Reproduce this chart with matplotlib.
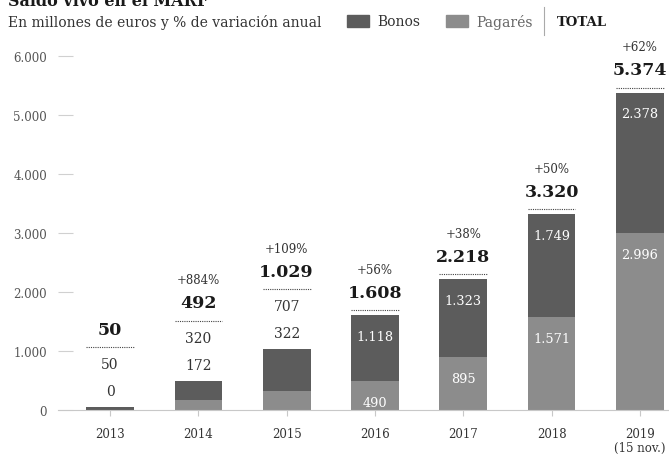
import matplotlib
matplotlib.use("Agg")
import matplotlib.pyplot as plt
from matplotlib.patches import Rectangle
from matplotlib.transforms import offset_copy

# datos (millones de euros)
years = ["2013", "2014", "2015", "2016", "2017", "2018", "2019\n(15 nov.)"]
pagares = [0, 172, 322, 490, 895, 1571, 2996]
bonos = [50, 320, 707, 1118, 1323, 1749, 2378]
totals = [50, 492, 1029, 1608, 2218, 3320, 5374]
pct = [None, "+884%", "+109%", "+56%", "+38%", "+50%", "+62%"]
yticks = [0, 1000, 2000, 3000, 4000, 5000, 6000]
ytick_labels = ["0", "1.000", "2.000", "3.000", "4.000", "5.000", "6.000"]

C_BONOS = "#5c5c5c"
C_PAGARES = "#8c8c8c"
SERIF = "DejaVu Serif"

def fmt(v):
    return "{:,}".format(v).replace(",", ".")

plt.rcParams["font.family"] = SERIF
fig = plt.figure(figsize=(6.69, 4.60), dpi=100)
ax = fig.add_axes([0.0867, 0.1065, 0.9133, 0.7695])

x = list(range(len(years)))
w = 0.54
ax.bar(x, pagares, w, color=C_PAGARES, zorder=2)
ax.bar(x, bonos, w, bottom=pagares, color=C_BONOS, zorder=2)

ax.set_xlim(-0.59, 6.33)
ax.set_ylim(0, 6000)
ax.set_yticks(yticks)
ax.set_yticklabels(ytick_labels)
ax.set_xticks(x)
ax.set_xticklabels(years)
for s in ["top", "right", "left"]:
    ax.spines[s].set_visible(False)
ax.spines["bottom"].set_color("#c8c8c8")
ax.spines["bottom"].set_linestyle((0, (2, 1)))
ax.tick_params(axis="y", direction="in", length=11, width=0.8, color="#d0d0d0",
               pad=8, labelsize=8.5, labelcolor="#555555")
ax.tick_params(axis="x", length=4, width=0.8, color="#c8c8c8", pad=8,
               labelsize=8.5, labelcolor="#333333")
for lab in ax.get_xticklabels():
    lab.set_linespacing(1.15)

def note(i, y, dy, txt, **kw):
    ax.annotate(txt, (i, y), xytext=(0, dy), textcoords="offset pixels",
                ha="center", va="center", annotation_clip=False, **kw)

for i in x:
    top = totals[i]
    if top < 1500:
        # etiquetas encima de la barra
        note(i, top, 16, fmt(pagares[i]), fontsize=10, color="#333333")
        note(i, top, 43, fmt(bonos[i]), fontsize=10, color="#333333")
        line_dy = 60
    else:
        # etiquetas dentro de la barra
        note(i, pagares[i], -21, fmt(pagares[i]), fontsize=9.3, color="white")
        note(i, top, -21, fmt(bonos[i]), fontsize=9.3, color="white")
        line_dy = 5
    tr = offset_copy(ax.transData, fig=fig, y=line_dy, units="dots")
    ax.plot([i - w / 2, i + w / 2], [top, top], transform=tr, color="#444444",
            lw=0.8, ls=(0, (1, 1)), clip_on=False, zorder=3)
    note(i, top, line_dy + 18, fmt(top), fontsize=12.5, fontweight="bold", color="#1a1a1a")
    if pct[i]:
        note(i, top, line_dy + 41, pct[i], fontsize=8.5, color="#333333")

# titulo (cortado arriba) y subtitulo con leyenda
fig.text(0.012, 1 - 6 / 460, "Saldo vivo en el MARF", fontsize=11.5, fontweight="bold",
         va="baseline", ha="left", color="#1a1a1a")
ly = 1 - 22 / 460
fig.text(0.012, ly, "En millones de euros y % de variación anual", fontsize=10,
         va="center", ha="left", color="#333333")
fig.patches.append(Rectangle((347 / 669, ly - 0.013), 22 / 669, 0.026,
                             transform=fig.transFigure, color=C_BONOS))
fig.text(377 / 669, ly, "Bonos", fontsize=10, va="center", ha="left", color="#333333")
fig.patches.append(Rectangle((446 / 669, ly - 0.013), 22 / 669, 0.026,
                             transform=fig.transFigure, color=C_PAGARES))
fig.text(476 / 669, ly, "Pagarés", fontsize=10, va="center", ha="left", color="#666666")
fig.lines.append(plt.Line2D([544 / 669, 544 / 669], [ly - 0.03, ly + 0.03],
                            transform=fig.transFigure, color="#aaaaaa", lw=0.8))
fig.text(557 / 669, ly, "TOTAL", fontsize=9.5, fontweight="bold", va="center",
         ha="left", color="#1a1a1a")

fig.savefig("out.png", dpi=100, facecolor="white")
